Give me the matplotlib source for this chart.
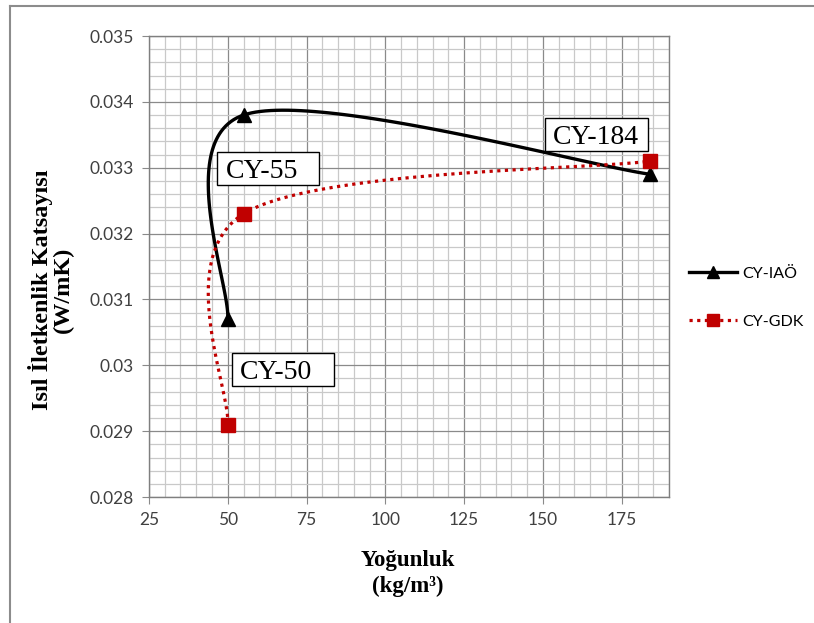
import numpy as np
import matplotlib.pyplot as plt
from matplotlib.lines import Line2D
from matplotlib.patches import Rectangle
from matplotlib.ticker import MultipleLocator

# data
iao_x = [50, 55, 184]
iao_y = [0.0307, 0.0338, 0.0329]
gdk_x = [50, 55, 184]
gdk_y = [0.0291, 0.0323, 0.0331]

labels = ['CY-50', 'CY-55', 'CY-184']
# label boxes: (left, right, bottom, top) and text start, in data units
label_boxes = [(51.3, 83.7, 0.02969, 0.03018), (46.7, 79.1, 0.03274, 0.03324),
               (150.6, 183.2, 0.03326, 0.03376)]
label_text_x = [54.0, 49.4, 153.2]

x_ticks = [25, 50, 75, 100, 125, 150, 175]
y_ticks = [0.028, 0.029, 0.03, 0.031, 0.032, 0.033, 0.034, 0.035]
y_ticklabels = ['0.028', '0.029', '0.03', '0.031', '0.032', '0.033', '0.034', '0.035']


def smooth(ax, xs, ys, n=60):
    # Excel-like smoothed line: Catmull-Rom Bezier done in screen space
    pts = ax.transData.transform(np.column_stack([xs, ys]))
    out = []
    m = len(pts)
    for i in range(m - 1):
        p0, p1 = pts[i], pts[i + 1]
        t0 = (pts[i + 1] - pts[i - 1]) / 2 if i > 0 else (p1 - p0) / 2
        t1 = (pts[i + 2] - pts[i]) / 2 if i + 2 < m else (p1 - p0) / 2
        c1 = p0 + t0 / 3
        c2 = p1 - t1 / 3
        t = np.linspace(0, 1, n)[:, None]
        seg = ((1 - t) ** 3 * p0 + 3 * (1 - t) ** 2 * t * c1
               + 3 * (1 - t) * t ** 2 * c2 + t ** 3 * p1)
        out.append(seg if i == 0 else seg[1:])
    out = np.vstack(out)
    return ax.transData.inverted().transform(out).T


fig = plt.figure(figsize=(8.14, 6.23), dpi=100)
ax = fig.add_axes([0.183, 0.2022, 0.6389, 0.74])
ax.set_xlim(25, 190)
ax.set_ylim(0.028, 0.035)

# grid
ax.xaxis.set_minor_locator(MultipleLocator(5))
ax.yaxis.set_minor_locator(MultipleLocator(0.0002))
ax.grid(which='minor', color='#c9c9c9', lw=0.9)
ax.grid(which='major', color='#8a8a8a', lw=0.9)
ax.set_axisbelow(True)
ax.tick_params(which='minor', length=0)
ax.tick_params(which='major', length=5, color='#8a8a8a', labelsize=12.5,
               labelcolor='#404040', pad=6)
for s in ax.spines.values():
    s.set_color('#7f7f7f')
    s.set_linewidth(1.0)

ax.set_xticks(x_ticks)
ax.set_yticks(y_ticks)
ax.set_yticklabels(y_ticklabels)
for lab in ax.get_xticklabels() + ax.get_yticklabels():
    lab.set_family('Lato')

# series
sx, sy = smooth(ax, iao_x, iao_y)
ax.plot(sx, sy, color='black', lw=2.4, solid_capstyle='butt')
ax.plot(iao_x, iao_y, ls='none', marker='^', ms=10, color='black')

gx, gy = smooth(ax, gdk_x, gdk_y)
ax.plot(gx, gy, color='#c00000', lw=2.3, ls=(0, (1, 1.4)))
ax.plot(gdk_x, gdk_y, ls='none', marker='s', ms=9.5, color='#c00000')

# point labels
for txt, (x0, x1, y0, y1), tx in zip(labels, label_boxes, label_text_x):
    ax.add_patch(Rectangle((x0, y0), x1 - x0, y1 - y0, fc='white', ec='black',
                           lw=1.0, zorder=4))
    ax.text(tx, (y0 + y1) / 2, txt, family='Liberation Serif', fontsize=20,
            ha='left', va='center_baseline', zorder=5)

# axis titles
fig.text(0.501, 0.080, 'Yoğunluk\n(kg/m³)', family='Liberation Serif',
         fontsize=16.5, fontweight='bold', ha='center', va='center',
         linespacing=1.3)
fig.text(0.063, 0.5345, 'Isıl İletkenlik Katsayısı\n(W/mK)', family='Liberation Serif',
         fontsize=17.5, fontweight='bold', ha='center', va='center',
         rotation=90, linespacing=1.0)

# legend
handles = [Line2D([], [], color='black', lw=2.4, marker='^', ms=9),
           Line2D([], [], color='#c00000', lw=2.3, ls=(0, (1, 1.4)), marker='s', ms=8.5)]
leg = fig.legend(handles, ['CY-IAÖ', 'CY-GDK'], loc='center left',
                 bbox_to_anchor=(0.829, 0.522), frameon=False,
                 prop={'family': 'Lato', 'size': 11.5}, handlelength=3.0,
                 labelspacing=2.1, handletextpad=0.3)

# outer chart border (partly visible)
fig.add_artist(Line2D([10 / 814, 1], [1 - 6 / 623, 1 - 6 / 623], color='#8c8c8c', lw=1.5))
fig.add_artist(Line2D([10 / 814, 10 / 814], [0, 1 - 6 / 623], color='#8c8c8c', lw=1.5))

fig.savefig('out.png', dpi=100)
